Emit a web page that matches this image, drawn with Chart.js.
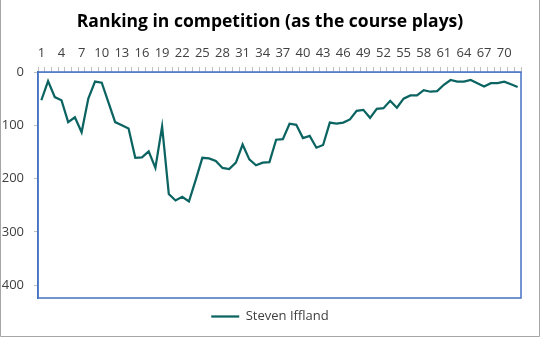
<!DOCTYPE html>
<html>
<head>
<meta charset="utf-8">
<script src="https://cdn.jsdelivr.net/npm/chart.js@4.4.1/dist/chart.umd.min.js"></script>
<style>
  html, body { margin: 0; padding: 0; background: #ffffff; }
  #wrap { width: 540px; height: 337px; position: relative; }
  canvas { display: block; }
</style>
</head>
<body>
<div id="wrap"><canvas id="chart" width="540" height="337"></canvas></div>
<script>
// Hole-by-hole competition ranking (lower number = better position)
const holes = [
  1, 2, 3, 4, 5, 6, 7, 8, 9, 10, 11, 12, 13, 14, 15, 16, 17, 18,
  19, 20, 21, 22, 23, 24, 25, 26, 27, 28, 29, 30, 31, 32, 33, 34, 35, 36,
  37, 38, 39, 40, 41, 42, 43, 44, 45, 46, 47, 48, 49, 50, 51, 52, 53, 54,
  55, 56, 57, 58, 59, 60, 61, 62, 63, 64, 65, 66, 67, 68, 69, 70, 71, 72
];
const playerName = "Steven Iffland";
const ranking = [
  53, 17, 47, 53, 94, 85, 113, 50, 18, 20, 57, 94, 100, 106, 161, 160, 149, 180,
  102, 229, 241, 234, 243, 203, 161, 162, 167, 180, 182, 170, 136, 164, 175, 170, 169, 127,
  126, 97, 99, 124, 120, 142, 137, 95, 97, 95, 89, 73, 71, 86, 69, 68, 54, 67,
  50, 44, 44, 34, 37, 36, 24, 15, 18, 18, 15, 21, 27, 21, 21, 18, 23, 28
];
const labelledHoles = [1, 4, 7, 10, 13, 16, 19, 22, 25, 28, 31, 34, 37, 40, 43, 46, 49, 52, 55, 58, 61, 64, 67, 70];
const rankTicks = [0, 100, 200, 300, 400];

const FONT = "'Open Sans', 'Noto Sans', sans-serif";

// Plot-area frame and outer chart border
const framePlugin = {
  id: 'frame',
  afterDatasetsDraw(chart) {
    const { ctx, chartArea: a } = chart;
    ctx.save();
    ctx.strokeStyle = '#4472c4';
    ctx.lineWidth = 1.5;
    ctx.strokeRect(a.left, a.top, a.right - a.left, a.bottom - a.top);
    ctx.restore();
  },
  afterDraw(chart) {
    const { ctx, width, height } = chart;
    ctx.save();
    ctx.strokeStyle = '#a6a6a6';
    ctx.lineWidth = 1;
    ctx.beginPath();
    ctx.moveTo(0.5, 0);
    ctx.lineTo(0.5, height - 0.5);
    ctx.lineTo(width - 0.5, height - 0.5);
    ctx.lineTo(width - 0.5, 0);
    ctx.stroke();
    ctx.restore();
  }
};

new Chart(document.getElementById('chart'), {
  type: 'line',
  data: {
    labels: holes,
    datasets: [{
      label: playerName,
      data: ranking,
      borderColor: '#0b6461',
      backgroundColor: '#0b6461',
      borderWidth: 2.25,
      pointRadius: 0,
      tension: 0,
      fill: false
    }]
  },
  options: {
    responsive: false,
    animation: false,
    layout: { padding: { left: 0, right: 0, top: 0, bottom: 4 } },
    plugins: {
      title: {
        display: true,
        text: 'Ranking in competition (as the course plays)',
        color: '#000000',
        font: { family: FONT, size: 17.5, weight: 'bold' },
        padding: { top: 12, bottom: 6 }
      },
      legend: {
        display: true,
        position: 'bottom',
        labels: {
          color: '#404040',
          font: { family: FONT, size: 13 },
          usePointStyle: true,
          pointStyle: 'line',
          pointStyleWidth: 28,
          boxHeight: 13,
          padding: 12
        }
      },
      tooltip: { enabled: false }
    },
    scales: {
      x: {
        type: 'category',
        position: 'top',
        offset: true,
        grid: {
          offset: true,
          drawOnChartArea: false,
          drawTicks: true,
          tickLength: 5,
          color: '#bfbfbf'
        },
        border: { display: true, color: '#8fa6d4', width: 1 },
        ticks: {
          autoSkip: false,
          maxRotation: 0,
          padding: 6,
          color: '#404040',
          font: { family: FONT, size: 13 },
          callback(value, index) {
            const h = holes[index];
            return labelledHoles.includes(h) ? String(h) : '';
          }
        },
        afterFit(scale) { scale.height = 33; }
      },
      y: {
        reverse: true,
        min: 0,
        max: 424,
        afterBuildTicks(scale) {
          scale.ticks = rankTicks.map(v => ({ value: v }));
        },
        grid: {
          drawOnChartArea: false,
          drawTicks: true,
          tickLength: 4,
          color: '#bfbfbf'
        },
        border: { display: true, color: '#4472c4', width: 1.5 },
        ticks: {
          padding: 10,
          color: '#404040',
          font: { family: FONT, size: 13 }
        },
        afterFit(scale) { scale.width = 38; }
      },
      // empty right-hand margin axis, keeps the plot clear of the right edge
      yMargin: {
        type: 'linear',
        position: 'right',
        display: true,
        grid: { display: false, drawTicks: false },
        border: { display: false },
        ticks: { display: false },
        afterFit(scale) { scale.width = 19; }
      }
    }
  },
  plugins: [framePlugin]
});
</script>
</body>
</html>
